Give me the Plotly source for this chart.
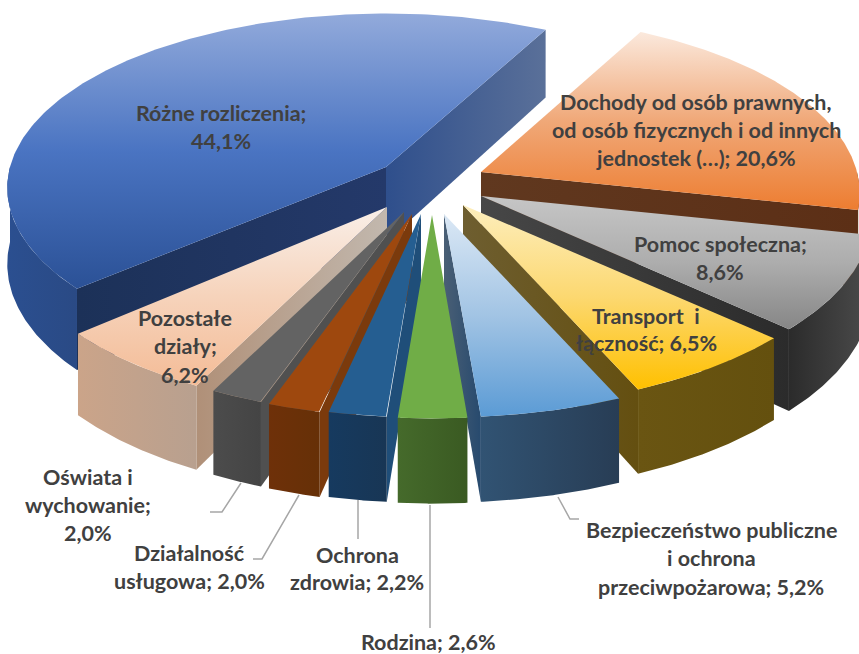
import numpy as np
import plotly.graph_objects as go

# ---- data ----
categories = ["Dochody od osób prawnych, od osób fizycznych i od innych jednostek (…)",
              "Pomoc społeczna", "Transport i łączność",
              "Bezpieczeństwo publiczne i ochrona przeciwpożarowa", "Rodzina",
              "Ochrona zdrowia", "Działalność usługowa", "Oświata i wychowanie",
              "Pozostałe działy", "Różne rozliczenia"]
shares = [20.6, 8.6, 6.5, 5.2, 2.6, 2.2, 2.0, 2.0, 6.2, 44.1]

# ---- styling: projection, explosion, colours ----
START_ANGLE = 28.0
A, B, P, H = 376.0, 179.0, 0.12, 75.0
apex_x = [481, 481, 463, 444, 432, 421, 412, 404, 387, 386]
apex_y = [172, 196, 205, 214, 215, 214, 214, 212, 207, 167]
radius_x = [1.0, 1.03, 1.04, 1.04, 1.0, 1.0, 1.0, 1.0, 1.0, 1.0]
radius_y = [0.98, 1.0, 1.0, 1.0, 1.0, 1.0, 1.0, 1.0, 1.0, 0.96]
top_colors = [["#fbe9dd", "#f0a878", "#ed7d31"], ["#c6c6c6", "#adadad", "#868686"],
              ["#fdeebd", "#fcd870", "#ffc000"], ["#dbe8f5", "#a2c4e4", "#5b9bd5"],
              ["#70ad47", "#70ad47", "#70ad47"], ["#255e91", "#255e91", "#255e91"],
              ["#9e480e", "#9e480e", "#9e480e"], ["#636363", "#636363", "#636363"],
              ["#f9efe8", "#f6d3bb", "#f4bc97"], ["#92aadb", "#4a74c2", "#2b5196"]]
outer_colors = [["#60341a", "#5c2f14"], ["#2b2b2b", "#4b4b4b"], ["#6a5512", "#64500e"],
                ["#315373", "#283d55"], ["#456a2b", "#3a5a22"], ["#163a5f", "#183655"],
                ["#6e3009", "#663007"], ["#4c4c4c", "#444444"], ["#cba489", "#b8a08f"],
                ["#2b4f90", "#2a4a85"]]
side_colors = [["#60381f", "#5c2f16"], ["#474747", "#2b2b2b"], ["#6e5e30", "#644f10"],
               ["#4a5f75", "#274a6e"], ["#3a5a22", "#3a5a22"], ["#1f4e79", "#1f4e79"],
               ["#7b3a0c", "#7b3a0c"], ["#505050", "#505050"], ["#b09078", "#c2b8ae"],
               ["#1c3158", "#24396a"]]
blue_right_wall = ["#2f4f8c", "#5a7099"]
draw_order = [0, 9, 1, 8, 2, 7, 3, 6, 5, 4]

label_lines = [
    ["Dochody od osób prawnych,", "od osób fizycznych i od innych", "jednostek (…); 20,6%"],
    ["Pomoc społeczna;", "8,6%"], ["Transport  i", "łączność; 6,5%"],
    ["Bezpieczeństwo publiczne", "i ochrona", "przeciwpożarowa; 5,2%"], ["Rodzina; 2,6%"],
    ["Ochrona", "zdrowia; 2,2%"], ["Działalność", "usługowa; 2,0%"],
    ["Oświata i", "wychowanie;", "2,0%"], ["Pozostałe", "działy;", "6,2%"],
    ["Różne rozliczenia;", "44,1%"]]
label_x = [696, 720, 646, 711, 428, 357, 189, 88, 185, 221]
label_y = [[102, 130, 158], [244, 272], [316, 343], [530, 558, 587], [642],
           [555, 582], [553, 581], [477, 505, 533], [318, 346, 375], [113, 141]]
leaders = [([241, 222, 210], [483, 512, 512]), ([299, 262, 253], [495, 559, 559]),
           ([358, 358], [500, 539]), ([430, 430], [505, 628]),
           ([558, 570, 579], [497, 519, 519])]


def project(i, deg, lift=0.0):
    t = np.radians(np.asarray(deg, dtype=float))
    u, v = np.sin(t), -np.cos(t)
    w = 1.0 / (1.0 - P * v)
    return (apex_x[i] + radius_x[i] * A * u * w,
            apex_y[i] + radius_y[i] * B * v * w + lift * w)


def poly(fig, xs, ys, colors, kind):
    # the y axis is reversed, so vertical gradients run from the bottom of the page
    seq = colors[::-1] if kind == "vertical" else colors
    stops = np.linspace(0, 1, len(seq))
    fig.add_trace(go.Scatter(
        x=list(xs), y=list(ys), mode="lines", fill="toself", line=dict(width=0),
        fillgradient=dict(type=kind, colorscale=[[float(s), c] for s, c in zip(stops, seq)]),
        hoverinfo="skip", showlegend=False))


fig = go.Figure()
edges = START_ANGLE + np.concatenate([[0], np.cumsum(shares)]) * 360.0 / sum(shares)

for i in draw_order:
    a0, a1 = edges[i], edges[i + 1]
    ax, ay = apex_x[i], apex_y[i]
    # radial walls
    for ang, sign in ((a0, -1), (a1, 1)):
        if sign * np.sin(np.radians(ang)) > 0:
            x1, y1 = project(i, ang)
            x2, y2 = project(i, ang, H)
            cols = blue_right_wall if (i == 9 and sign > 0) else side_colors[i]
            poly(fig, [ax, x1, x2, ax, ax], [ay, y1, y2, ay + H, ay], cols, "horizontal")
    # outer wall (only the part facing the viewer)
    lo, hi = max(a0, 90.0), min(a1, 270.0)
    if hi > lo:
        arc = np.linspace(lo, hi, 60)
        xt, yt = project(i, arc)
        xb, yb = project(i, arc, H)
        poly(fig, np.r_[xt, xb[::-1], xt[0]], np.r_[yt, yb[::-1], yt[0]], outer_colors[i], "horizontal")
    # top surface
    arc = np.linspace(a0, a1, 160)
    xt, yt = project(i, arc)
    poly(fig, np.r_[ax, xt, ax], np.r_[ay, yt, ay], top_colors[i], "vertical")

for lx, ly in leaders:
    fig.add_trace(go.Scatter(x=lx, y=ly, mode="lines", line=dict(color="#a6a6a6", width=1.5),
                             hoverinfo="skip", showlegend=False))

for lines, cx, ys in zip(label_lines, label_x, label_y):
    for txt, yy in zip(lines, ys):
        fig.add_annotation(x=cx, y=yy, text=f"<b>{txt}</b>", showarrow=False,
                           xanchor="center", yanchor="middle",
                           font=dict(family="Lato", size=21.5, color="#404040"))

fig.update_layout(
    width=859, height=654, margin=dict(l=0, r=0, t=0, b=0),
    paper_bgcolor="white", plot_bgcolor="white", showlegend=False,
    xaxis=dict(range=[0, 859], visible=False, fixedrange=True),
    yaxis=dict(range=[654, 0], visible=False, fixedrange=True))
fig.write_html("out.html", config={"displayModeBar": False},
               post_script="document.body.style.margin='0';document.body.style.overflow='hidden';")
